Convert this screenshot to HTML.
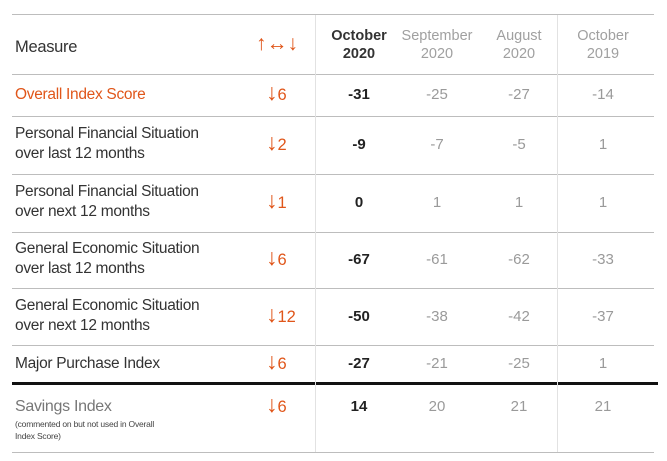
<!DOCTYPE html>
<html><head><meta charset="utf-8">
<style>
html,body{margin:0;padding:0;background:#fff;}
#t{position:relative;width:667px;height:461px;overflow:hidden;font-family:"Liberation Sans","DejaVu Sans",sans-serif;}
.hl{position:absolute;height:1px;background:#bdbdbd;}
.vl{position:absolute;width:1px;background:#e2e2e2;}
.tx{position:absolute;white-space:nowrap;}
.m{font-size:15.5px;color:#333;line-height:20px;letter-spacing:-0.3px;}
.v{font-size:15px;text-align:center;width:80px;line-height:20px;}
.ch{font-size:15px;color:#e0561a;line-height:20px;}
.hd{font-size:14.5px;text-align:center;width:90px;line-height:18px;}
</style></head>
<body>
<div id="t"></div>
<script>
const measures=[["Overall Index Score"],["Personal Financial Situation","over last 12 months"],["Personal Financial Situation","over next 12 months"],["General Economic Situation","over last 12 months"],["General Economic Situation","over next 12 months"],["Major Purchase Index"],["Savings Index"]];
const changes=[6,2,1,6,12,6,6];
const oct2020=[-31,-9,0,-67,-50,-27,14];
const sep2020=[-25,-7,1,-61,-38,-21,20];
const aug2020=[-27,-5,1,-62,-42,-25,21];
const oct2019=[-14,1,1,-33,-37,1,21];
const headers=[["October","2020"],["September","2020"],["August","2020"],["October","2019"]];
const t=document.getElementById('t');
const lines=[14,74,116,174,232,288,345,383,452];
const colC=[359,437,519,603];
function add(cls,x,y,txt,name){const d=document.createElement('div');d.className='tx '+cls;d.style.left=x+'px';d.style.top=y+'px';d.innerHTML=txt;


t.appendChild(d);return d;}
lines.forEach((y,i)=>{const d=document.createElement('div');
if(i==7){d.style.cssText='position:absolute;left:12px;width:646px;top:382px;height:3px;background:#111;';}
else{d.className='hl';d.style.left='12px';d.style.width='642px';d.style.top=y+'px';}


t.appendChild(d);});
[315,557].forEach(x=>{const d=document.createElement('div');d.className='vl';d.style.left=x+'px';d.style.top='15px';d.style.height='437px';


t.appendChild(d);});
add('m',15,37,'<span style="font-size:16.5px">Measure</span>','measure-header');
add('ch',256,34,'<span style="font-size:21px;font-weight:bold">↑↔↓</span>','change-header');
headers.forEach((h,i)=>{const d=add('hd',colC[i]-45,27,h[0]+'<br>'+h[1],'column-header');d.style.color=i==0?'#333':'#a0a0a0';if(i==0)d.style.fontWeight='bold';});
const cols=[oct2020,sep2020,aug2020,oct2019];
measures.forEach((m,r)=>{const top=lines[r+1],bot=lines[r+2];let cy=(top+bot)/2;
if(r==6)cy=407;
const color=r==0?'#e0561a':(r==6?'#777':'#333');
if(m.length==2){const d=add('m',15,cy-21,m[0]+'<br>'+m[1],'measure-label');d.style.color=color;}
else{const d=add('m',15,cy-10,m[0],'measure-label');d.style.color=color;if(r==6)d.style.fontSize='16px';}
if(r==6){const d=add('m',15,418,'(commented on but not used in Overall<br>Index Score)','savings-footnote');d.style.fontSize='8.5px';d.style.lineHeight='12px';d.style.color='#444';d.style.letterSpacing='-0.2px';}
add('ch',266,cy-13,'<span style="font-size:23px;font-weight:bold">↓</span><span style="font-size:16.5px">'+changes[r]+'</span>','change-value');
cols.forEach((c,i)=>{const d=add('v',colC[i]-40,cy-10,String(c[r]),'cell-value');d.style.color=i==0?'#222':'#9a9a9a';if(i==0)d.style.fontWeight='bold';});
});
</script>
</body></html>
